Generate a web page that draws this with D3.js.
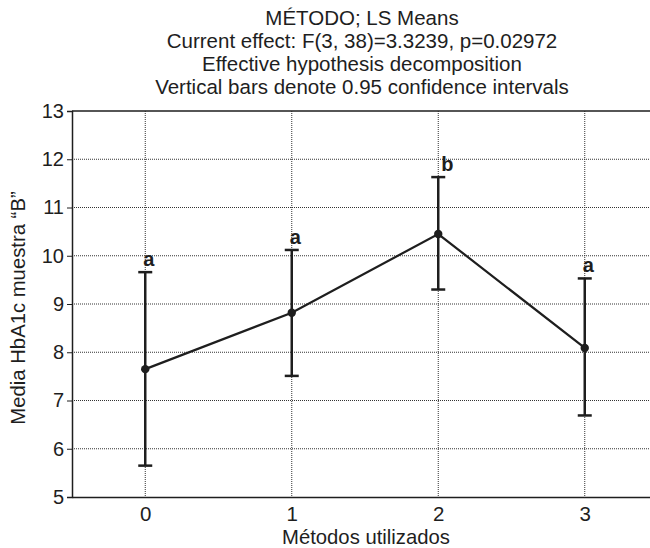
<!DOCTYPE html>
<html>
<head>
<meta charset="utf-8">
<script src="https://cdn.jsdelivr.net/npm/d3@7"></script>
<style>
  body { margin: 0; background: #fff; }
  svg { display: block; font-family: "Liberation Sans", Arial, sans-serif; }
</style>
</head>
<body>
<svg width="650" height="548"></svg>
<script>
// chart data
var methods = [0, 1, 2, 3];
var means = [7.65, 8.82, 10.45, 8.09];
var upper = [9.66, 10.12, 11.63, 9.53];
var lower = [5.65, 7.51, 9.30, 6.69];
var groups = ["a", "a", "b", "a"];
var yTicks = [5, 6, 7, 8, 9, 10, 11, 12, 13];
var titleLines = [
  "MÉTODO; LS Means",
  "Current effect: F(3, 38)=3.3239, p=0.02972",
  "Effective hypothesis decomposition",
  "Vertical bars denote 0.95 confidence intervals"
];

var svg = d3.select("svg");
var ink = "#1e1e1e";

var x = d3.scaleLinear().domain([-0.5, 3.5]).range([72, 658]);
var y = d3.scaleLinear().domain([5, 13]).range([497, 111]);

var data = methods.map(function(m, i) {
  return { m: m, mean: means[i], hi: upper[i], lo: lower[i], g: groups[i] };
});

// title
svg.append("g").selectAll("text")
  .data(titleLines)
  .enter().append("text")
  .attr("x", 362)
  .attr("y", (d, i) => 25 + i * 23)
  .attr("text-anchor", "middle")
  .style("font-size", "20.5px")
  .style("fill", ink)
  .text(d => d);

// grid
var grid = svg.append("g");
grid.selectAll(".hg")
  .data(yTicks.slice(1, -1))
  .enter().append("line")
  .attr("x1", x(-0.5)).attr("x2", x(3.5))
  .attr("y1", d => y(d)).attr("y2", d => y(d))
  .style("stroke", "#333")
  .style("stroke-width", 1)
  .style("stroke-dasharray", "1,1");
grid.selectAll(".vg")
  .data(methods)
  .enter().append("line")
  .attr("x1", d => x(d)).attr("x2", d => x(d))
  .attr("y1", y(13)).attr("y2", y(5))
  .style("stroke", "#333")
  .style("stroke-width", 1)
  .style("stroke-dasharray", "1,1");

// y axis
var yAxis = svg.append("g")
  .attr("transform", "translate(" + x(-0.5) + ",0)")
  .call(d3.axisLeft(y).tickValues(yTicks).tickSize(5).tickPadding(3));
yAxis.select(".domain").style("stroke", ink).style("stroke-width", 1.5);
yAxis.selectAll(".tick line").style("stroke", ink);
yAxis.selectAll("text")
  .style("font-size", "20px")
  .style("font-family", "Liberation Sans, Arial, sans-serif")
  .style("fill", ink);

// x axis
var xAxis = svg.append("g")
  .attr("transform", "translate(0," + y(5) + ")")
  .call(d3.axisBottom(x).tickValues(methods).tickSize(0).tickPadding(9).tickFormat(d3.format("d")));
xAxis.select(".domain").style("stroke", ink).style("stroke-width", 1.5);
xAxis.selectAll("text")
  .style("font-size", "20.5px")
  .style("font-family", "Liberation Sans, Arial, sans-serif")
  .style("fill", ink);

// top border
svg.append("line")
  .attr("x1", x(-0.5)).attr("x2", x(3.5))
  .attr("y1", y(13)).attr("y2", y(13))
  .style("stroke", ink)
  .style("stroke-width", 1.5);

// axis titles
svg.append("text")
  .attr("x", 366)
  .attr("y", 544)
  .attr("text-anchor", "middle")
  .style("font-size", "20.3px")
  .style("fill", ink)
  .text("Métodos utilizados");

svg.append("text")
  .attr("transform", "translate(25," + 308 + ") rotate(-90)")
  .attr("text-anchor", "middle")
  .style("font-size", "20.3px")
  .style("fill", ink)
  .text("Media HbA1c muestra “B”");

// error bars
var bars = svg.append("g").selectAll("g")
  .data(data)
  .enter().append("g");
bars.append("line")
  .attr("x1", d => x(d.m)).attr("x2", d => x(d.m))
  .attr("y1", d => y(d.hi)).attr("y2", d => y(d.lo))
  .style("stroke", ink).style("stroke-width", 2.5);
bars.append("line")
  .attr("x1", d => x(d.m) - 7).attr("x2", d => x(d.m) + 7)
  .attr("y1", d => y(d.hi)).attr("y2", d => y(d.hi))
  .style("stroke", ink).style("stroke-width", 2.5);
bars.append("line")
  .attr("x1", d => x(d.m) - 7).attr("x2", d => x(d.m) + 7)
  .attr("y1", d => y(d.lo)).attr("y2", d => y(d.lo))
  .style("stroke", ink).style("stroke-width", 2.5);

// means line
svg.append("path")
  .datum(data)
  .attr("d", d3.line().x(d => x(d.m)).y(d => y(d.mean)))
  .style("fill", "none")
  .style("stroke", ink)
  .style("stroke-width", 2.2);

svg.append("g").selectAll("circle")
  .data(data)
  .enter().append("circle")
  .attr("cx", d => x(d.m))
  .attr("cy", d => y(d.mean))
  .attr("r", 4.2)
  .style("fill", ink);

// group letters
svg.append("g").selectAll("text")
  .data(data)
  .enter().append("text")
  .attr("x", d => x(d.m) - 2 + (d.g === "b" ? 5 : 0))
  .attr("y", d => y(d.hi) - 6)
  .style("font-size", "20px")
  .style("font-weight", "bold")
  .style("fill", ink)
  .text(d => d.g);
</script>
</body>
</html>
